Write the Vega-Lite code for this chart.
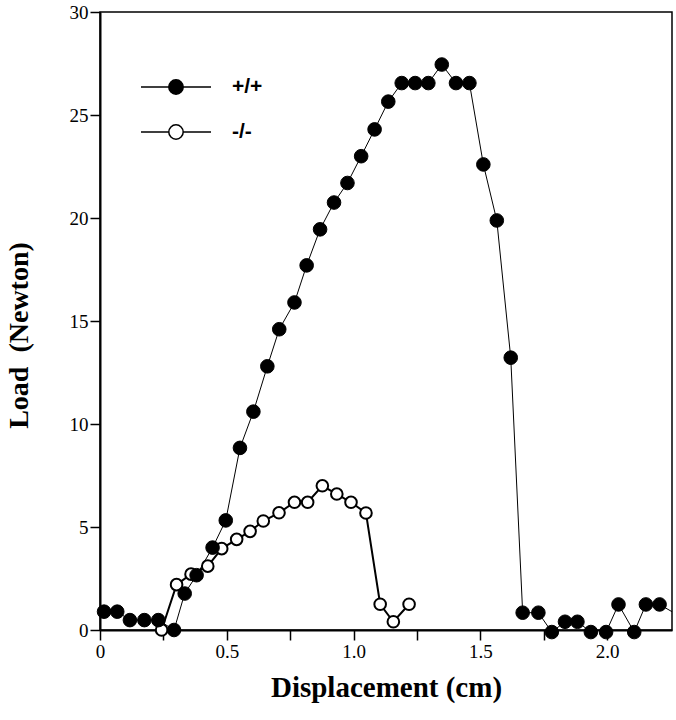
{
  "$schema": "https://vega.github.io/schema/vega-lite/v6.json",
  "width": 572,
  "height": 618,
  "autosize": "none",
  "padding": {"left": 100, "top": 12, "right": 4, "bottom": 90},
  "background": "white",
  "config": {
    "view": {"stroke": "black", "strokeWidth": 1.5},
    "axis": {
      "grid": false,
      "domainColor": "black",
      "domainWidth": 2,
      "tickColor": "black",
      "tickWidth": 1.5,
      "tickSize": 10,
      "labelPadding": 2,
      "labelFont": "Liberation Serif",
      "labelFontSize": 19,
      "labelColor": "black",
      "labelFlush": false,
      "labelOverlap": false,
      "titleFont": "Liberation Serif",
      "titleFontWeight": "bold",
      "titleColor": "black"
    }
  },
  "data": {
    "values": [
      {"genotype": "-/-", "x": 0.243, "load": 0.0},
      {"genotype": "-/-", "x": 0.302, "load": 2.2},
      {"genotype": "-/-", "x": 0.359, "load": 2.71},
      {"genotype": "-/-", "x": 0.425, "load": 3.1},
      {"genotype": "-/-", "x": 0.48, "load": 3.95},
      {"genotype": "-/-", "x": 0.539, "load": 4.4},
      {"genotype": "-/-", "x": 0.592, "load": 4.79},
      {"genotype": "-/-", "x": 0.644, "load": 5.29},
      {"genotype": "-/-", "x": 0.706, "load": 5.69},
      {"genotype": "-/-", "x": 0.767, "load": 6.2},
      {"genotype": "-/-", "x": 0.819, "load": 6.2},
      {"genotype": "-/-", "x": 0.877, "load": 7.0},
      {"genotype": "-/-", "x": 0.934, "load": 6.6},
      {"genotype": "-/-", "x": 0.99, "load": 6.2},
      {"genotype": "-/-", "x": 1.049, "load": 5.68},
      {"genotype": "-/-", "x": 1.105, "load": 1.25},
      {"genotype": "-/-", "x": 1.157, "load": 0.4},
      {"genotype": "-/-", "x": 1.219, "load": 1.25},
      {"genotype": "+/+", "x": 0.016, "load": 0.89},
      {"genotype": "+/+", "x": 0.068, "load": 0.89},
      {"genotype": "+/+", "x": 0.118, "load": 0.48},
      {"genotype": "+/+", "x": 0.175, "load": 0.48},
      {"genotype": "+/+", "x": 0.23, "load": 0.48},
      {"genotype": "+/+", "x": 0.292, "load": 0.0},
      {"genotype": "+/+", "x": 0.334, "load": 1.77},
      {"genotype": "+/+", "x": 0.381, "load": 2.66},
      {"genotype": "+/+", "x": 0.444, "load": 4.0},
      {"genotype": "+/+", "x": 0.496, "load": 5.32},
      {"genotype": "+/+", "x": 0.552, "load": 8.84},
      {"genotype": "+/+", "x": 0.605, "load": 10.6},
      {"genotype": "+/+", "x": 0.66, "load": 12.8},
      {"genotype": "+/+", "x": 0.707, "load": 14.6},
      {"genotype": "+/+", "x": 0.767, "load": 15.9},
      {"genotype": "+/+", "x": 0.815, "load": 17.7},
      {"genotype": "+/+", "x": 0.868, "load": 19.45},
      {"genotype": "+/+", "x": 0.923, "load": 20.75},
      {"genotype": "+/+", "x": 0.976, "load": 21.7},
      {"genotype": "+/+", "x": 1.03, "load": 23.0},
      {"genotype": "+/+", "x": 1.083, "load": 24.3},
      {"genotype": "+/+", "x": 1.137, "load": 25.65},
      {"genotype": "+/+", "x": 1.19, "load": 26.55},
      {"genotype": "+/+", "x": 1.243, "load": 26.55},
      {"genotype": "+/+", "x": 1.295, "load": 26.55},
      {"genotype": "+/+", "x": 1.348, "load": 27.45},
      {"genotype": "+/+", "x": 1.404, "load": 26.55},
      {"genotype": "+/+", "x": 1.457, "load": 26.55},
      {"genotype": "+/+", "x": 1.512, "load": 22.6},
      {"genotype": "+/+", "x": 1.565, "load": 19.88},
      {"genotype": "+/+", "x": 1.62, "load": 13.22},
      {"genotype": "+/+", "x": 1.667, "load": 0.84},
      {"genotype": "+/+", "x": 1.729, "load": 0.84},
      {"genotype": "+/+", "x": 1.782, "load": -0.1},
      {"genotype": "+/+", "x": 1.834, "load": 0.4},
      {"genotype": "+/+", "x": 1.883, "load": 0.4},
      {"genotype": "+/+", "x": 1.936, "load": -0.1},
      {"genotype": "+/+", "x": 1.996, "load": -0.1},
      {"genotype": "+/+", "x": 2.045, "load": 1.24},
      {"genotype": "+/+", "x": 2.107, "load": -0.1},
      {"genotype": "+/+", "x": 2.153, "load": 1.24},
      {"genotype": "+/+", "x": 2.207, "load": 1.24},
      {"genotype": "+/+", "x": 2.31, "load": 0.5}
    ]
  },
  "encoding": {
    "x": {
      "field": "x",
      "type": "quantitative",
      "scale": {"domain": [0, 2.256], "nice": false, "zero": false},
      "axis": {
        "values": [0, 0.25, 0.5, 0.75, 1.0, 1.25, 1.5, 1.75, 2.0],
        "labelExpr": "datum.value == 0 ? '0' : (abs(datum.value * 2 - round(datum.value * 2)) < 0.001 ? format(datum.value, '.1f') : '')",
        "title": "Displacement (cm)",
        "titleFontSize": 29,
        "titleY": 66,
        "titleBaseline": "alphabetic"
      }
    },
    "y": {
      "field": "load",
      "type": "quantitative",
      "scale": {"domain": [0, 30], "nice": false},
      "axis": {
        "values": [0, 5, 10, 15, 20, 25, 30],
        "title": "Load\u00a0 (Newton)",
        "titleFontSize": 28,
        "titleAngle": 270,
        "titleX": -73,
        "titleY": 323,
        "titleBaseline": "alphabetic",
        "titleAlign": "center"
      }
    }
  },
  "layer": [
    {
      "transform": [{"filter": "datum.genotype === '-/-'"}],
      "mark": {"type": "line", "clip": true, "color": "black", "strokeWidth": 2},
      "encoding": {}
    },
    {
      "transform": [{"filter": "datum.genotype === '+/+'"}],
      "mark": {"type": "line", "clip": true, "color": "black", "strokeWidth": 1},
      "encoding": {}
    },
    {
      "transform": [{"filter": "datum.genotype === '-/-'"}],
      "mark": {"type": "point", "filled": true, "shape": "circle", "stroke": "black", "opacity": 1, "size": 135, "strokeWidth": 2},
      "encoding": {
        "fill": {
          "field": "genotype",
          "type": "nominal",
          "scale": {"domain": ["+/+", "-/-"], "range": ["black", "white"]},
          "legend": {
            "title": null,
            "orient": "none",
            "legendX": 59,
            "legendY": 58,
            "padding": 0,
            "symbolSize": 1024,
            "symbolType": "M-2.19,0H-0.45M0.45,0H2.19M0.45,0A0.45,0.45,0,1,1,-0.45,0A0.45,0.45,0,1,1,0.45,0Z",
            "symbolStrokeColor": "black",
            "symbolStrokeWidth": 1.5,
            "symbolOpacity": 1,
            "labelOffset": 39,
            "rowPadding": 17,
            "labelFont": "Liberation Sans",
            "labelFontSize": 21,
            "labelFontWeight": "bold",
            "labelColor": "black"
          }
        }
      }
    },
    {
      "transform": [{"filter": "datum.genotype === '+/+' && datum.x < 2.256"}],
      "mark": {"type": "point", "filled": true, "shape": "circle", "fill": "black", "stroke": "black", "opacity": 1, "size": 185, "strokeWidth": 1},
      "encoding": {}
    }
  ]
}
